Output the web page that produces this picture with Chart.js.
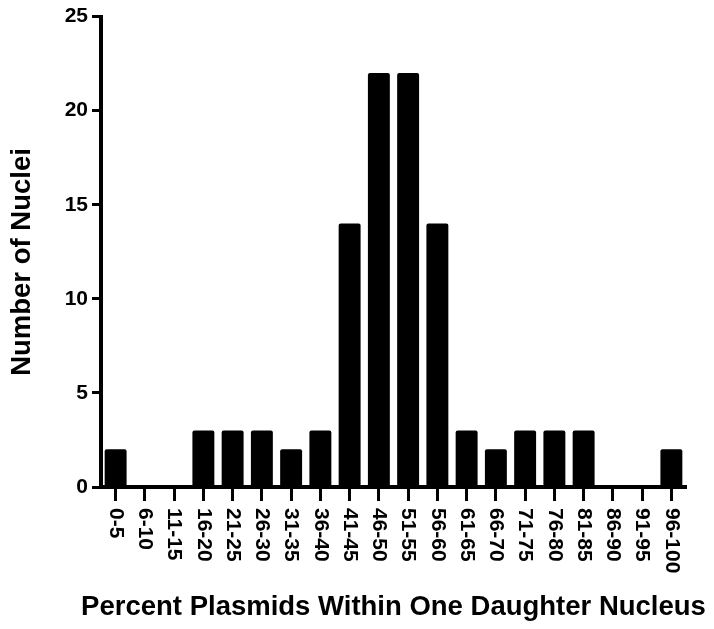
<!DOCTYPE html>
<html>
<head>
<meta charset="utf-8">
<script src="https://cdn.jsdelivr.net/npm/chart.js@4"></script>
<style>
  html, body { margin: 0; padding: 0; background: #fff; }
</style>
</head>
<body>
<canvas id="chart" width="714" height="629"></canvas>
<script>
const categories = ["0-5", "6-10", "11-15", "16-20", "21-25", "26-30", "31-35", "36-40", "41-45", "46-50",
  "51-55", "56-60", "61-65", "66-70", "71-75", "76-80", "81-85", "86-90", "91-95", "96-100"];
const nucleiCounts = [2, 0, 0, 3, 3, 3, 2, 3, 14, 22, 22, 14, 3, 2, 3, 3, 3, 0, 0, 2];
const yMin = 0;
const yMax = 25;
const yStep = 5;
const xTitle = 'Percent Plasmids Within One Daughter Nucleus';
const yTitle = 'Number of Nuclei';

const FONT = '"Liberation Sans", Arial, sans-serif';

// x labels read top-to-bottom, which the built-in ticks can't do.
// titles drawn here too since chart.js squeezes the long x title to the axis width
const customText = {
  id: 'customText',
  afterDraw(chart) {
    const xs = chart.scales.x;
    const ctx = chart.ctx;
    ctx.save();
    ctx.fillStyle = '#000';
    ctx.font = 'bold 21px ' + FONT;
    ctx.textAlign = 'left';
    ctx.textBaseline = 'middle';
    categories.forEach((lab, i) => {
      ctx.save();
      ctx.translate(xs.getPixelForTick(i), xs.top + 21);
      ctx.rotate(Math.PI / 2);
      ctx.fillText(lab, 0, 0);
      ctx.restore();
    });

    ctx.textAlign = 'center';
    ctx.textBaseline = 'alphabetic';
    ctx.font = 'bold 27.5px ' + FONT;
    ctx.fillText(xTitle, (xs.left + xs.right) / 2, 615);

    ctx.save();
    ctx.translate(30, 262);
    ctx.rotate(-Math.PI / 2);
    ctx.fillText(yTitle, 0, 0);
    ctx.restore();
    ctx.restore();
  }
};

new Chart(document.getElementById('chart'), {
  type: 'bar',
  data: {
    labels: categories,
    datasets: [{
      data: nucleiCounts,
      backgroundColor: '#000',
      borderRadius: 2,
      barPercentage: 0.75,
      categoryPercentage: 1
    }]
  },
  options: {
    responsive: false,
    animation: false,
    layout: { padding: { top: 16, right: 28, bottom: 0, left: 0 } },
    plugins: { legend: { display: false }, tooltip: { enabled: false } },
    scales: {
      x: {
        afterFit(scale) { scale.height = 142; },
        grid: { offset: false, drawOnChartArea: false, tickLength: 14, tickWidth: 3, color: '#000' },
        border: { color: '#000', width: 4 },
        ticks: { display: false }
      },
      y: {
        min: yMin,
        max: yMax,
        afterFit(scale) { scale.width = 101; },
        grid: { drawOnChartArea: false, tickLength: 9, tickWidth: 3, color: '#000' },
        border: { color: '#000', width: 4 },
        ticks: {
          stepSize: yStep,
          padding: 4,
          color: '#000',
          font: { family: FONT, size: 21, weight: 'bold' }
        }
      }
    }
  },
  plugins: [customText]
});
</script>
</body>
</html>
